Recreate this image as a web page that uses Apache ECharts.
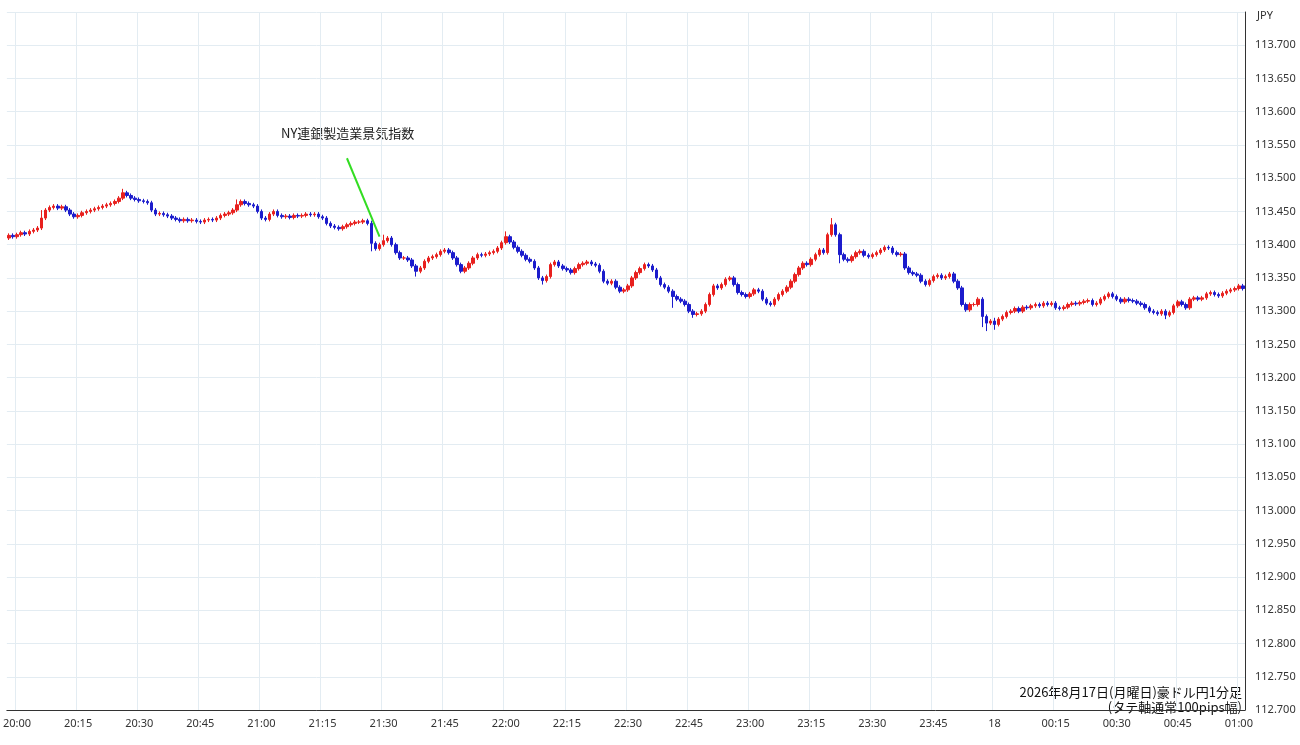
<!DOCTYPE html>
<html><head><meta charset="utf-8">
<script src="https://cdn.jsdelivr.net/npm/echarts@6/dist/echarts.min.js"></script>
<style>html,body{margin:0;padding:0;background:#fff}#c{width:1300px;height:745px}</style>
</head><body><div id="c"></div>
<script>
const startTime = '19:58';
const closes = [
113.414,113.412,113.415,113.418,113.416,113.420,113.422,113.425,113.440,113.452,
113.456,113.458,113.455,113.457,113.452,113.446,113.442,113.444,113.448,113.450,
113.452,113.454,113.456,113.458,113.460,113.462,113.465,113.470,113.478,113.474,
113.470,113.468,113.466,113.465,113.463,113.452,113.446,113.447,113.445,113.443,
113.440,113.438,113.436,113.438,113.436,113.437,113.435,113.434,113.437,113.438,
113.437,113.440,113.444,113.446,113.448,113.452,113.460,113.465,113.462,113.460,
113.458,113.450,113.440,113.438,113.446,113.450,113.444,113.442,113.443,113.441,
113.444,113.443,113.444,113.446,113.445,113.446,113.442,113.440,113.432,113.428,
113.426,113.424,113.427,113.430,113.432,113.434,113.434,113.436,113.432,113.402,
113.394,113.400,113.406,113.410,113.400,113.388,113.380,113.380,113.377,113.368,
113.360,113.365,113.375,113.380,113.382,113.385,113.390,113.392,113.388,113.380,
113.370,113.360,113.365,113.372,113.380,113.385,113.384,113.386,113.388,113.390,
113.395,113.403,113.412,113.404,113.396,113.390,113.384,113.378,113.375,113.365,
113.350,113.346,113.352,113.370,113.374,113.368,113.364,113.362,113.358,113.364,
113.370,113.372,113.374,113.371,113.369,113.360,113.345,113.342,113.345,113.336,
113.330,113.332,113.338,113.350,113.358,113.364,113.370,113.368,113.362,113.350,
113.340,113.336,113.330,113.322,113.318,113.315,113.310,113.300,113.295,113.296,
113.300,113.310,113.325,113.338,113.335,113.340,113.348,113.350,113.340,113.328,
113.325,113.322,113.326,113.332,113.330,113.318,113.312,113.310,113.318,113.325,
113.330,113.336,113.345,113.355,113.365,113.372,113.370,113.378,113.385,113.392,
113.388,113.415,113.430,113.415,113.385,113.378,113.376,113.382,113.388,113.390,
113.384,113.382,113.385,113.388,113.392,113.396,113.395,113.388,113.385,113.386,
113.365,113.358,113.356,113.354,113.345,113.340,113.346,113.352,113.354,113.350,
113.352,113.356,113.345,113.335,113.310,113.302,113.310,113.310,113.318,113.292,
113.282,113.285,113.280,113.288,113.292,113.298,113.300,113.304,113.300,113.306,
113.305,113.308,113.310,113.308,113.312,113.310,113.312,113.305,113.304,113.306,
113.310,113.312,113.311,113.313,113.315,113.316,113.310,113.312,113.318,113.322,
113.326,113.322,113.318,113.314,113.318,113.316,113.315,113.312,113.310,113.305,
113.300,113.298,113.296,113.300,113.294,113.298,113.308,113.314,113.310,113.305,
113.318,113.320,113.318,113.320,113.326,113.328,113.325,113.323,113.327,113.330,
113.332,113.334,113.338,113.334];
const firstOpen = 113.410;
// notable wick extremes: index -> [high, low]
const wickExtremes = {8:[113.452,113.425],28:[113.484,113.470],56:[113.468,113.452],89:[113.436,113.390],
  92:[113.415,113.400],100:[113.365,113.352],122:[113.420,113.402],131:[113.352,113.340],
  163:[113.330,113.305],168:[113.300,113.290],202:[113.440,113.412],204:[113.412,113.372],
  239:[113.318,113.276],240:[113.290,113.270],242:[113.290,113.272],284:[113.300,113.288]};
const defaultWick = 0.003;
const yTicks = {min:112.7, max:113.75, step:0.05};

const cats = [];
const [h0,m0] = startTime.split(':').map(Number);
for (let i=0;i<closes.length;i++){
  const t = h0*60+m0+i; const h=Math.floor(t/60)%24, m=t%60;
  cats.push(String(h).padStart(2,'0')+':'+String(m).padStart(2,'0'));
}
const ohlc = closes.map((c,i)=>{
  const o = i===0?firstOpen:closes[i-1];
  let hi = Math.max(o,c)+defaultWick, lo = Math.min(o,c)-defaultWick;
  if (wickExtremes[i]) { hi=Math.max(hi,wickExtremes[i][0]); lo=Math.min(lo,wickExtremes[i][1]); }
  return [o,c,lo,hi];
});
const isQuarter = v => v.endsWith(':00')||v.endsWith(':15')||v.endsWith(':30')||v.endsWith(':45');
const labelFmt = v => v==='00:00' ? '18' : v;
const chart = echarts.init(document.getElementById('c'));
chart.setOption({
  animation:false,
  grid:{left:0,right:55,top:12,bottom:35},
  xAxis:{type:'category',data:cats,boundaryGap:true,
    axisLine:{lineStyle:{color:'#333'}},axisTick:{show:false},
    axisLabel:{interval:(i,v)=>isQuarter(v),formatter:labelFmt,color:'#333',fontSize:11,fontFamily:'Noto Sans',margin:8},
    splitLine:{show:true,interval:(i,v)=>isQuarter(v),lineStyle:{color:'#e3ecf2'}}},
  yAxis:{type:'value',position:'right',min:yTicks.min,max:yTicks.max,interval:yTicks.step,
    axisLine:{show:true,lineStyle:{color:'#333'}},axisTick:{show:false},
    axisLabel:{formatter:v=>v.toFixed(3),color:'#333',fontSize:11,fontFamily:'Noto Sans',margin:10,showMaxLabel:false},
    splitLine:{lineStyle:{color:'#e3ecf2'}}},
  series:[{type:'candlestick',data:ohlc,barWidth:3,
    itemStyle:{color:'#e8201e',color0:'#1c1ccc',borderColor:'#e8201e',borderColor0:'#1c1ccc',borderWidth:1},
    markLine:{symbol:['none','none'],silent:true,
      lineStyle:{color:'#33dd22',width:2,type:'solid'},
      label:{show:false},
      data:[[{coord:['21:21',113.530]},{coord:['21:29',113.412]}]]}
  }],
  graphic:[
    {type:'text',left:1257,top:10,style:{text:'JPY',fontSize:11,fill:'#333',fontFamily:'Noto Sans'}},
    {type:'text',left:281,top:127,style:{text:'NY連銀製造業景気指数',fontSize:13,fill:'#222',fontFamily:'Noto Sans CJK JP'}},
    {type:'text',x:1242,y:686,style:{text:'2026年8月17日(月曜日)豪ドル円1分足',fontSize:13,fill:'#111',align:'right',fontFamily:'Noto Sans CJK JP'}},
    {type:'text',x:1242,y:701,style:{text:'(タテ軸通常100pips幅)',fontSize:13,fill:'#111',align:'right',fontFamily:'Noto Sans CJK JP'}}
  ]
});
</script></body></html>
